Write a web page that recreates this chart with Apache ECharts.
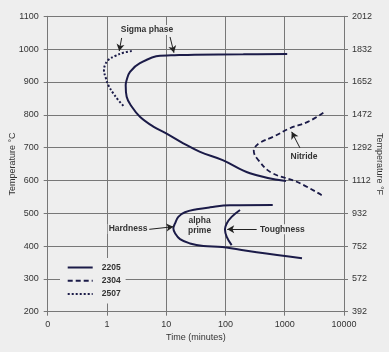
<!DOCTYPE html>
<html>
<head>
<meta charset="utf-8">
<script src="https://cdn.jsdelivr.net/npm/echarts@6/dist/echarts.min.js"></script>
<style>
  html, body { margin: 0; padding: 0; background: #eeeeee; }
  #chart { width: 389px; height: 352px; }
</style>
</head>
<body>
<div id="chart"></div>
<script>
// time ticks (minutes) on a log scale, the first one is printed as "0"
const timeTicks = [0.1, 1, 10, 100, 1000, 10000]
const timeLabels = ['0', '1', '10', '100', '1000', '10000']

// [time in minutes, temperature in °C]
const sigma2205 = [
  [1100, 985], [200, 984], [30, 983], [12, 981], [7.85, 980], [3.6, 957], [2.45, 931],
  [2.15, 906], [2.07, 890], [2.15, 855], [2.61, 825], [3.6, 794], [6.05, 764],
  [9.8, 744], [19.4, 713], [37.2, 687], [89.7, 662], [259, 622], [1050, 598]
]
const alpha2205 = [
  [627, 525], [119, 524], [54.8, 518], [32.7, 512], [20.7, 503], [16, 489], [14.1, 469],
  [13.2, 454], [14.1, 439], [17.1, 421], [25.2, 408], [42.3, 400], [88, 397],
  [336, 381], [1955, 363]
]
const tough2205 = [
  [176, 510], [127, 489], [105, 469], [98, 451], [105, 428], [127, 403]
]
const nitride2304 = [
  [4480, 806], [2500, 779], [1228, 759], [641, 733], [381, 715], [306, 698],
  [300, 690], [358, 662], [603, 623], [1592, 596], [4207, 555]
]
const sigma2507 = [
  [2.62, 994], [1.89, 989], [1.37, 979], [1.05, 967], [0.93, 952], [0.89, 936],
  [0.96, 911], [1.05, 891], [1.28, 865], [1.55, 845], [1.89, 827]
]

// annotation texts and arrows, in data coordinates
const noteTexts = [
  { text: 'Sigma phase', at: [4.75, 1058] },
  { text: 'Nitride', at: [2113, 671] },
  { text: 'Hardness', at: [2.27, 452] },
  { text: 'alpha\nprime', at: [36.5, 461] },
  { text: 'Toughness', at: [910, 451] }
]
const noteArrows = [
  [[1.77, 1034], [1.61, 994]],
  [[11.6, 1037], [13.5, 989]],
  [[1807, 699], [1310, 748]],
  [[5.18, 451], [13.2, 459]],
  [[336, 451], [107, 451]]
]

const bg = '#eeeeee'
const ink = '#1b1b48'
const gridColor = '#777777'
const txt = '#333333'
const font = '"Liberation Sans", Arial, sans-serif'

const chart = echarts.init(document.getElementById('chart'))

function curve(name, data, type, width) {
  return {
    name: name,
    type: 'line',
    data: data,
    smooth: 0.4,
    symbol: 'none',
    silent: true,
    lineStyle: { color: ink, width: width, type: type },
    itemStyle: { color: ink },
    z: 3
  }
}

chart.setOption({
  animation: false,
  backgroundColor: bg,
  textStyle: { fontFamily: font },
  grid: { left: 47.7, right: 45, top: 16.3, bottom: 40.3, outerBoundsMode: 'none', containLabel: false },
  legend: {
    data: ['2205', '2304', '2507'],
    orient: 'vertical',
    left: 60,
    top: 258,
    padding: [5, 5, 5, 6.7],
    itemWidth: 25,
    itemHeight: 10,
    itemGap: 4.3,
    backgroundColor: bg,
    selectedMode: false,
    itemStyle: { opacity: 0, borderWidth: 0 },
    textStyle: { color: txt, fontWeight: 'bold', fontSize: 8.5, padding: [0, 0, 0, 4], fontFamily: font }
  },
  xAxis: {
    type: 'log',
    logBase: 10,
    min: 0.1,
    max: 10000,
    name: 'Time (minutes)',
    nameLocation: 'middle',
    nameGap: 21,
    nameMoveOverlap: false,
    nameTextStyle: { color: txt, fontSize: 9, fontFamily: font },
    axisLine: { show: true, lineStyle: { color: gridColor } },
    axisTick: { show: true, length: 4, lineStyle: { color: gridColor } },
    axisLabel: {
      color: txt, fontSize: 9, margin: 8,
      formatter: v => {
        const i = timeTicks.findIndex(t => Math.abs(Math.log10(t) - Math.log10(v)) < 0.01)
        return i >= 0 ? timeLabels[i] : ''
      }
    },
    splitLine: { show: true, lineStyle: { color: gridColor, width: 1 } }
  },
  yAxis: [
    {
      type: 'value',
      min: 200,
      max: 1100,
      interval: 100,
      name: 'Temperature °C',
      nameLocation: 'middle',
      nameRotate: 90,
      nameGap: 31,
      nameMoveOverlap: false,
      nameTextStyle: { color: txt, fontSize: 9, fontFamily: font },
      axisLine: { show: true, lineStyle: { color: gridColor } },
      axisTick: { show: true, length: 4, lineStyle: { color: gridColor } },
      axisLabel: { color: txt, fontSize: 9, margin: 9, formatter: v => String(v) },
      splitLine: { show: true, lineStyle: { color: gridColor, width: 1 } }
    },
    {
      type: 'value',
      position: 'right',
      min: 200,
      max: 1100,
      interval: 100,
      name: 'Temperature °F',
      nameLocation: 'middle',
      nameRotate: -90,
      nameGap: 31,
      nameMoveOverlap: false,
      nameTextStyle: { color: txt, fontSize: 9, fontFamily: font },
      axisLine: { show: true, lineStyle: { color: gridColor } },
      axisTick: { show: true, length: 4, lineStyle: { color: gridColor } },
      axisLabel: { color: txt, fontSize: 9, margin: 8, formatter: v => String(Math.round(v * 1.8 + 32)) },
      splitLine: { show: false }
    }
  ],
  series: [
    curve('2205', sigma2205, 'solid', 2),
    curve('2205', alpha2205, 'solid', 2),
    curve('2205', tough2205, 'solid', 2),
    curve('2304', nitride2304, [5, 3], 1.8),
    curve('2507', sigma2507, [2, 2], 2),
    {
      name: 'notes',
      type: 'line',
      data: [],
      silent: true,
      markLine: {
        silent: true,
        symbol: ['none', 'arrow'],
        symbolSize: [6, 7],
        label: { show: false },
        lineStyle: { color: '#222222', width: 1, type: 'solid' },
        data: noteArrows.map(a => [{ coord: a[0] }, { coord: a[1] }])
      },
      markPoint: {
        silent: true,
        symbol: 'rect',
        symbolSize: 0,
        data: noteTexts.map(n => ({
          coord: n.at,
          label: {
            show: true,
            position: 'inside',
            formatter: n.text,
            color: txt,
            fontWeight: 'bold',
            fontSize: 8.5,
            lineHeight: 10,
            fontFamily: font,
            backgroundColor: bg,
            padding: [0, 1]
          }
        }))
      },
      z: 4
    }
  ]
})
</script>
</body>
</html>
